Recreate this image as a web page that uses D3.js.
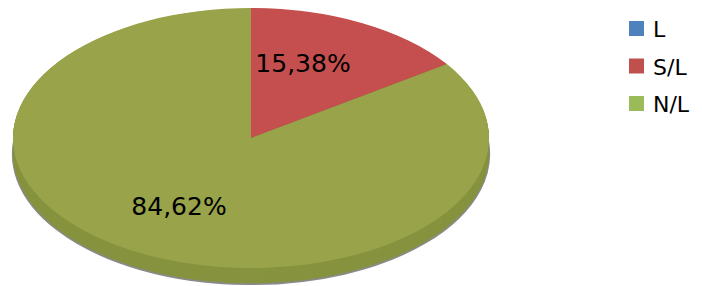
<!DOCTYPE html>
<html>
<head>
<meta charset="utf-8">
<script src="https://cdn.jsdelivr.net/npm/d3@7/dist/d3.min.js"></script>
<style>
html,body{margin:0;padding:0;background:#fff;}
svg{display:block;font-family:"DejaVu Sans",sans-serif;}
</style>
</head>
<body>
<svg id="chart" width="702" height="286"></svg>
<script>
const categories = ["L", "S/L", "N/L"];
const values = [0, 15.38, 84.62];
const labels = ["", "15,38%", "84,62%"];
const legendColors = ["#4f81bd", "#c0504d", "#9bbb59"];
const faceColors = ["#4f81bd", "#c44f4e", "#98a34a"];
const sideColors = ["#3d6696", "#9a3c3a", "#87933f"];

const svg = d3.select("#chart");
const cx = 251, cy = 138, rx = 238, ry = 130, depth = 16;
const k = ry / rx;
const dU = depth / k;

const pie = d3.pie().sort(null).value(d => d.v);
const data = categories.map((c, i) => ({c, v: values[i], i}));
const arcs = pie(data);
const arc = d3.arc().innerRadius(0).outerRadius(rx);

const g = svg.append("g").attr("transform", `translate(${cx},${cy}) scale(1,${k})`);

// side layers
const steps = 24;
for (let s = steps; s >= 1; s--) {
  const off = dU * s / steps;
  g.append("g").attr("transform", `translate(0,${off})`)
    .selectAll("path").data(arcs).join("path")
    .attr("d", arc)
    .attr("fill", d => sideColors[d.data.i])
    .attr("stroke", s === steps ? "#8a8a8a" : "none")
    .attr("stroke-width", s === steps ? 2.2 : 0)
    .attr("vector-effect", "non-scaling-stroke");
}
// top face
g.append("g").selectAll("path").data(arcs).join("path")
  .attr("d", arc)
  .attr("fill", d => faceColors[d.data.i]);

// labels
const labelPos = [null, [303, 72], [179, 215]];
arcs.forEach(d => {
  const i = d.data.i;
  if (!labels[i]) return;
  svg.append("text")
    .attr("x", labelPos[i][0]).attr("y", labelPos[i][1])
    .attr("text-anchor", "middle")
    .attr("font-size", 25)
    .attr("fill", "#000")
    .text(labels[i]);
});

// legend
const lg = svg.append("g").attr("transform", "translate(629,21)");
categories.forEach((c, i) => {
  const row = lg.append("g").attr("transform", `translate(0,${i * 37.5})`);
  row.append("rect").attr("width", 15).attr("height", 15).attr("fill", legendColors[i]);
  row.append("text").attr("x", 24).attr("y", 16).attr("font-size", 22).attr("fill", "#000").text(c);
});
</script>
</body>
</html>
